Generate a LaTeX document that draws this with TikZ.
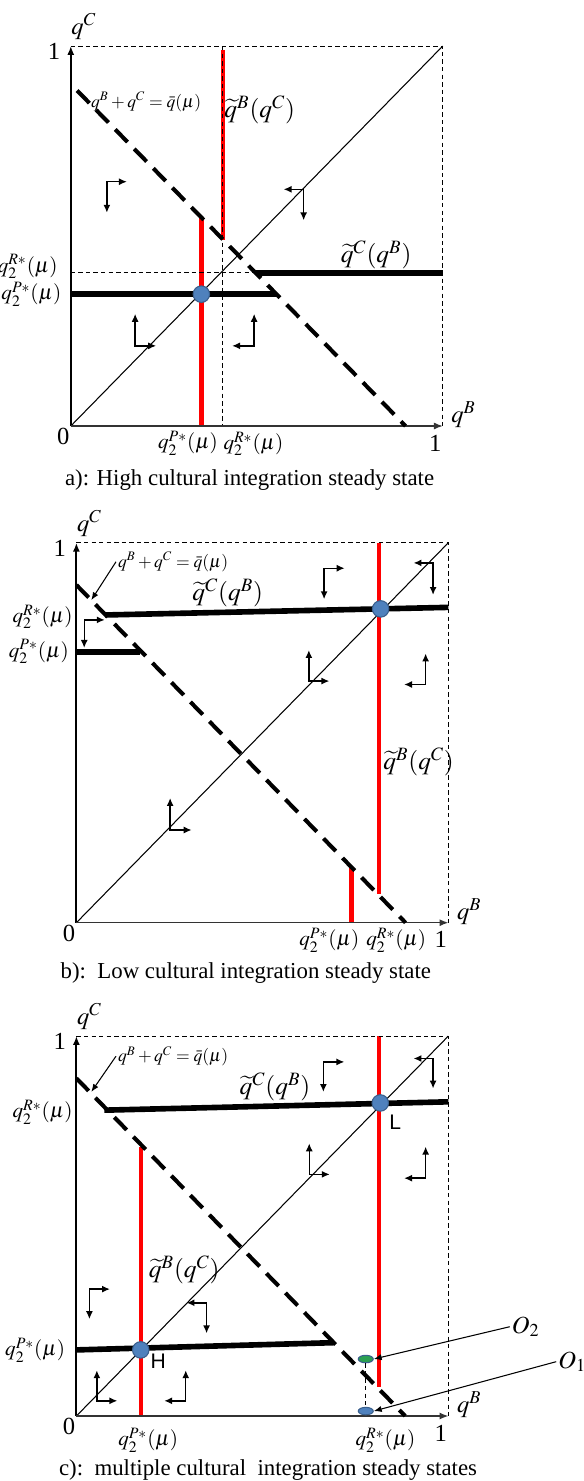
\documentclass[tikz,border=0pt]{standalone}
\usepackage{mathptmx}
\usepackage{fontspec}
\setmainfont{Liberation Serif}
\setsansfont{Liberation Sans}
\usepackage{xcolor}
\definecolor{cRed}{HTML}{FF0000}
\definecolor{cDot}{HTML}{4F81BD}
\definecolor{cDotEdge}{HTML}{3A5F8C}
\definecolor{cGreen}{HTML}{2BA052}
\definecolor{cAxis}{HTML}{333333}
\usetikzlibrary{arrows.meta,calc,shapes.geometric}
\tikzset{
  axis-up/.style={-{Latex[length=5pt,width=4pt]},line width=1.1pt},
  axis-right/.style={-{Latex[length=5pt,width=4pt]},line width=0.7pt,draw=cAxis},
  frame-dash/.style={line width=0.6pt,dash pattern=on 2.5pt off 1.8pt},
  diag-line/.style={line width=0.6pt},
  qbar-line/.style={line width=2.3pt,dash pattern=on 10pt off 5.5pt},
  best-c/.style={line width=3.2pt},
  best-b/.style={draw=cRed,line width=2.5pt},
  ss-dot/.style={circle,fill=cDot,draw=cDotEdge,line width=0.6pt,
    minimum size=3.3mm,inner sep=0pt},
  o-dot/.style={ellipse,draw=cDotEdge,line width=0.6pt,
    minimum width=3mm,minimum height=1.5mm,inner sep=0pt},
  phase-arrow/.style={{Latex[length=4.5pt,width=4pt]}-{Latex[length=4.5pt,width=4pt]},
    line width=0.8pt},
  note-arrow/.style={-{Latex[length=4.5pt,width=3.5pt]},line width=0.6pt},
  lab/.style={font=\fontsize{12}{14}\selectfont,inner sep=1pt},
  lab-small/.style={font=\fontsize{10}{12}\selectfont,inner sep=1pt},
  lab-big/.style={font=\fontsize{14.5}{17}\selectfont,inner sep=1pt},
  lab-axis/.style={font=\fontsize{14}{16}\selectfont,inner sep=1pt},
  lab-sans/.style={font=\sffamily\fontsize{12}{14}\selectfont,inner sep=1pt},
  caption/.style={font=\fontsize{13}{15}\selectfont},
}
% one panel: axes, dashed box, 45 degree line and axis texts
\newcommand{\panelframe}[1]{%
  \draw[frame-dash] (0,1) -- (1,1) -- (1,0);
  \draw[diag-line] (0,0) -- (1,1);
  \draw[axis-up] (0,0) -- (0,1);
  \draw[axis-right] (0,0) -- (1,0);
  \node[lab-axis] (#1-qc) at (0.035,1.052) {$q^C$};
  \node[lab-axis] (#1-qb) at (1.056,0.03) {$q^B$};
  \node[lab-axis] (#1-one-y) at (-0.045,0.985) {1};
  \node[lab-axis] (#1-zero) at (-0.02,-0.028) {0};
  \node[lab-axis] (#1-one-x) at (0.98,-0.045) {1};
}
% L-shaped pair of phase arrows: corner, horizontal end, vertical end
\newcommand{\phasepair}[3]{%
  \draw[phase-arrow] ($(#1)+(#2)$) -- (#1) -- ($(#1)+(#3)$);}

\begin{document}
\begin{tikzpicture}[x=0.02cm,y=-0.02cm]
  \useasboundingbox (0,0) rectangle (584,1481);

  % a) high integration
  \begin{scope}[shift={(70.8,426)},x=7.44cm,y=7.6cm]
    \draw[best-b] (0.351,0) -- (0.351,0.549);
    \draw[best-b] (0.409,0.989) -- (0.409,0.49);
    \draw[frame-dash] (0.409,1) -- (0.409,0);
    \draw[frame-dash] (0,0.403) -- (0.497,0.403);
    \panelframe{a}
    \draw[qbar-line] (0.017,0.883) -- (0.9,0);
    \draw[best-c] (0,0.347) -- (0.553,0.347);
    \draw[best-c] (0.497,0.403) -- (1,0.403);
    \node[ss-dot] (a-ss) at (0.351,0.347) {};
    \node[lab,anchor=east] (a-rstar) at (-0.03,0.42) {$q_2^{R*}(\mu)$};
    \node[lab,anchor=east] (a-pstar) at (-0.02,0.347) {$q_2^{P*}(\mu)$};
    \node[lab] (a-pstar-x) at (0.315,-0.045) {$q_2^{P*}(\mu)$};
    \node[lab] (a-rstar-x) at (0.491,-0.047) {$q_2^{R*}(\mu)$};
    \node[lab-small] (a-qbar) at (0.2025,0.853) {$q^B+q^C=\bar{q}(\mu)$};
    \node[lab-big] (a-qb-tilde) at (0.508,0.832) {$\widetilde{q}^B(q^C)$};
    \node[lab-big] (a-qc-tilde) at (0.821,0.45) {$\widetilde{q}^C(q^B)$};
    \phasepair{0.097,0.643}{0.4cm,0}{0,-0.62cm}
    \phasepair{0.626,0.623}{-0.4cm,0}{0,-0.62cm}
    \phasepair{0.173,0.211}{0.42cm,0}{0,0.64cm}
    \phasepair{0.493,0.211}{-0.44cm,0}{0,0.64cm}
  \end{scope}
  \node[caption] (cap-a) at (249.6,480) {a): High cultural integration steady state};

  % b) low integration
  \begin{scope}[shift={(76.4,922.7)},x=7.44cm,y=7.6cm]
    \draw[best-b] (0.813,1) -- (0.813,0.075);
    \draw[best-b] (0.740,0) -- (0.740,0.147);
    \panelframe{b}
    \draw[qbar-line] (0,0.889) -- (0.885,0);
    \draw[best-c] (0.078,0.81) -- (1,0.83);
    \draw[best-c] (0,0.713) -- (0.172,0.713);
    \node[ss-dot] (b-ss) at (0.818,0.826) {};
    \node[lab,anchor=east] (b-rstar) at (-0.005,0.805) {$q_2^{R*}(\mu)$};
    \node[lab,anchor=east] (b-pstar) at (-0.015,0.713) {$q_2^{P*}(\mu)$};
    \node[lab] (b-pstar-x) at (0.68,-0.046) {$q_2^{P*}(\mu)$};
    \node[lab] (b-rstar-x) at (0.86,-0.046) {$q_2^{R*}(\mu)$};
    \node[lab-small] (b-qbar) at (0.26,0.95) {$q^B+q^C=\bar{q}(\mu)$};
    \coordinate (b-qbar-tip) at (0.04,0.849);
    \draw[note-arrow] (b-qbar.west) -- (b-qbar-tip);
    \node[lab-big] (b-qc-tilde) at (0.407,0.868) {$\widetilde{q}^C(q^B)$};
    \node[lab-big] (b-qb-tilde) at (0.92,0.424) {$\widetilde{q}^B(q^C)$};
    \phasepair{0.021,0.797}{0.41cm,0}{0,-0.56cm}
    \phasepair{0.666,0.933}{0.41cm,0}{0,-0.62cm}
    \phasepair{0.959,0.947}{-0.39cm,0}{0,-0.64cm}
    \phasepair{0.625,0.636}{0.41cm,0}{0,0.62cm}
    \phasepair{0.939,0.627}{-0.43cm,0}{0,0.62cm}
    \phasepair{0.252,0.244}{0.43cm,0}{0,0.64cm}
  \end{scope}
  \node[caption] (cap-b) at (245.8,973) {b):\ \ Low cultural integration steady state};

  % c) multiple steady states
  \begin{scope}[shift={(76.4,1416)},x=7.44cm,y=7.6cm]
    \draw[best-b] (0.173,0) -- (0.173,0.709);
    \draw[best-b] (0.813,1) -- (0.813,0.077);
    \panelframe{c}
    \draw[qbar-line] (0,0.889) -- (0.884,0);
    \draw[best-c] (0.075,0.805) -- (1,0.827);
    \draw[best-c] (0,0.174) -- (0.69,0.193);
    \node[ss-dot] (c-ss-l) at (0.817,0.824) {};
    \node[ss-dot] (c-ss-h) at (0.173,0.174) {};
    \node[lab-sans] (c-l) at (0.857,0.772) {L};
    \node[lab-sans] (c-h) at (0.22,0.143) {H};
    \node[o-dot,fill=cGreen] (c-o2) at (0.778,0.15) {};
    \node[o-dot,fill=cDot] (c-o1) at (0.778,0.013) {};
    \draw[frame-dash] (c-o2) -- (c-o1);
    \node[lab-axis] (c-o2-lab) at (1.208,0.235) {$O_2$};
    \node[lab-axis,anchor=west] (c-o1-lab) at (1.29,0.143) {$O_1$};
    \draw[note-arrow] (c-o2-lab.west) -- (c-o2.east);
    \draw[note-arrow] (c-o1-lab.west) -- (c-o1.east);
    \node[lab,anchor=east] (c-rstar) at (-0.005,0.80) {$q_2^{R*}(\mu)$};
    \node[lab,anchor=east] (c-pstar) at (-0.025,0.174) {$q_2^{P*}(\mu)$};
    \node[lab] (c-pstar-x) at (0.193,-0.063) {$q_2^{P*}(\mu)$};
    \node[lab] (c-rstar-x) at (0.831,-0.063) {$q_2^{R*}(\mu)$};
    \node[lab-small] (c-qbar) at (0.26,0.947) {$q^B+q^C=\bar{q}(\mu)$};
    \coordinate (c-qbar-tip) at (0.04,0.853);
    \draw[note-arrow] (c-qbar.west) -- (c-qbar-tip);
    \node[lab-big] (c-qc-tilde) at (0.534,0.867) {$\widetilde{q}^C(q^B)$};
    \node[lab-big] (c-qb-tilde) at (0.29,0.384) {$\widetilde{q}^B(q^C)$};
    \phasepair{0.664,0.932}{0.42cm,0}{0,-0.6cm}
    \phasepair{0.959,0.941}{-0.39cm,0}{0,-0.6cm}
    \phasepair{0.626,0.636}{0.41cm,0}{0,0.62cm}
    \phasepair{0.939,0.626}{-0.43cm,0}{0,0.63cm}
    \phasepair{0.035,0.334}{0.41cm,0}{0,-0.6cm}
    \phasepair{0.35,0.298}{-0.4cm,0}{0,-0.61cm}
    \phasepair{0.055,0.04}{0.41cm,0}{0,0.61cm}
    \phasepair{0.294,0.04}{-0.43cm,0}{0,0.61cm}
  \end{scope}
  \node[caption] (cap-c) at (268,1470) {c):\ \ multiple cultural\ \ integration steady states};
\end{tikzpicture}
\end{document}
